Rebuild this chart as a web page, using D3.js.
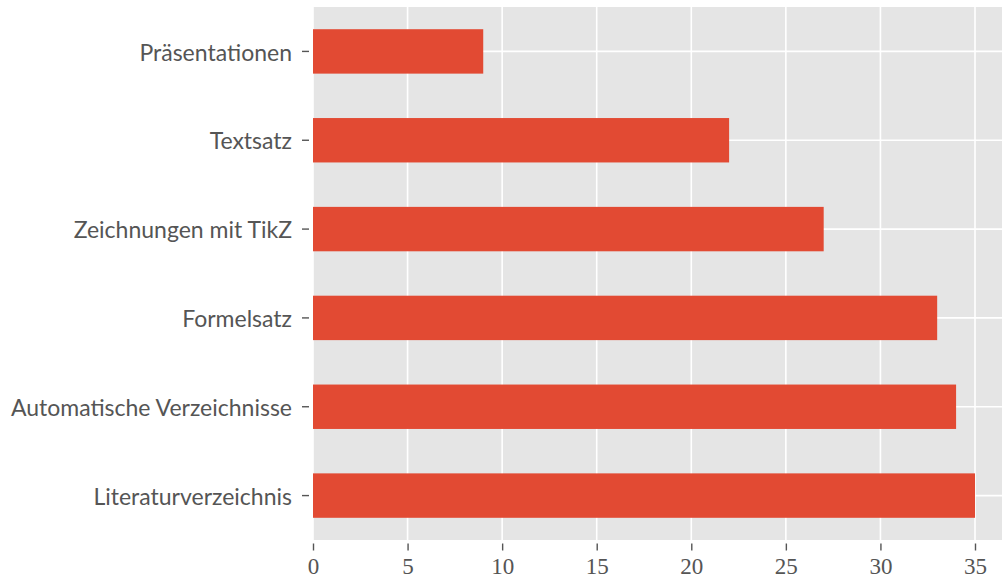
<!DOCTYPE html>
<html>
<head>
<meta charset="utf-8">
<script src="https://cdn.jsdelivr.net/npm/d3@7"></script>
<style>
  body { margin: 0; background: #fff; }
  svg { display: block; }
</style>
</head>
<body>
<svg id="chart" width="1002" height="580"></svg>
<script>
// categories bottom -> top, like the original barh
var categories = ['Literaturverzeichnis', 'Automatische Verzeichnisse', 'Formelsatz',
  'Zeichnungen mit TikZ', 'Textsatz', 'Präsentationen'];
var counts = [35, 34, 33, 27, 22, 9];
var xTicks = [0, 5, 10, 15, 20, 25, 30, 35];

var svg = d3.select('#chart');
// plot box (window.top is taken, so own names)
var plotLeft = 313, plotTop = 7, plotBottom = 540;

var x = d3.scaleLinear().domain([0, 36.75]).range([plotLeft, plotLeft + 36.75 * (662 / 35)]);
var y = d3.scaleBand().domain(categories.slice().reverse()).range([plotTop, plotBottom]).paddingInner(0.5).paddingOuter(0.25);

// background
svg.append('rect')
  .attr('x', plotLeft).attr('y', plotTop)
  .attr('width', x.range()[1] - plotLeft).attr('height', plotBottom - plotTop)
  .attr('fill', '#e5e5e5');

// grid
svg.append('g').selectAll('line').data(xTicks).join('line')
  .attr('x1', function (d) { return x(d); }).attr('x2', function (d) { return x(d); })
  .attr('y1', plotTop).attr('y2', plotBottom)
  .attr('stroke', '#fff').attr('stroke-width', 1.6);
svg.append('g').selectAll('line').data(categories).join('line')
  .attr('x1', plotLeft).attr('x2', x.range()[1])
  .attr('y1', function (d) { return y(d) + y.bandwidth() / 2; })
  .attr('y2', function (d) { return y(d) + y.bandwidth() / 2; })
  .attr('stroke', '#fff').attr('stroke-width', 1.6);

// bars
svg.append('g').selectAll('rect').data(categories).join('rect')
  .attr('x', x(0))
  .attr('y', function (d) { return y(d); })
  .attr('width', function (d, i) { return x(counts[i]) - x(0); })
  .attr('height', y.bandwidth())
  .attr('fill', '#e24a33');

// x axis
var xAxis = svg.append('g').attr('transform', 'translate(0,' + (plotBottom + 3.5) + ')')
  .call(d3.axisBottom(x).tickValues(xTicks).tickSize(7).tickPadding(7).tickFormat(d3.format('d')));
xAxis.select('.domain').remove();
xAxis.selectAll('line').attr('stroke', '#555').attr('stroke-width', 1.4);
xAxis.selectAll('text')
  .attr('fill', '#555')
  .style('font-family', '"Liberation Serif", "DejaVu Serif", serif')
  .style('font-size', '23px');

// y axis
var yAxis = svg.append('g').attr('transform', 'translate(' + (plotLeft - 4) + ',0)')
  .call(d3.axisLeft(y).tickSize(7).tickPadding(10));
yAxis.select('.domain').remove();
yAxis.selectAll('line').attr('stroke', '#555').attr('stroke-width', 1.4);
yAxis.selectAll('text')
  .attr('fill', '#555')
  .attr('dy', '0.4em')
  .style('font-family', 'Lato, "Open Sans", sans-serif')
  .style('font-size', '23px');
</script>
</body>
</html>
